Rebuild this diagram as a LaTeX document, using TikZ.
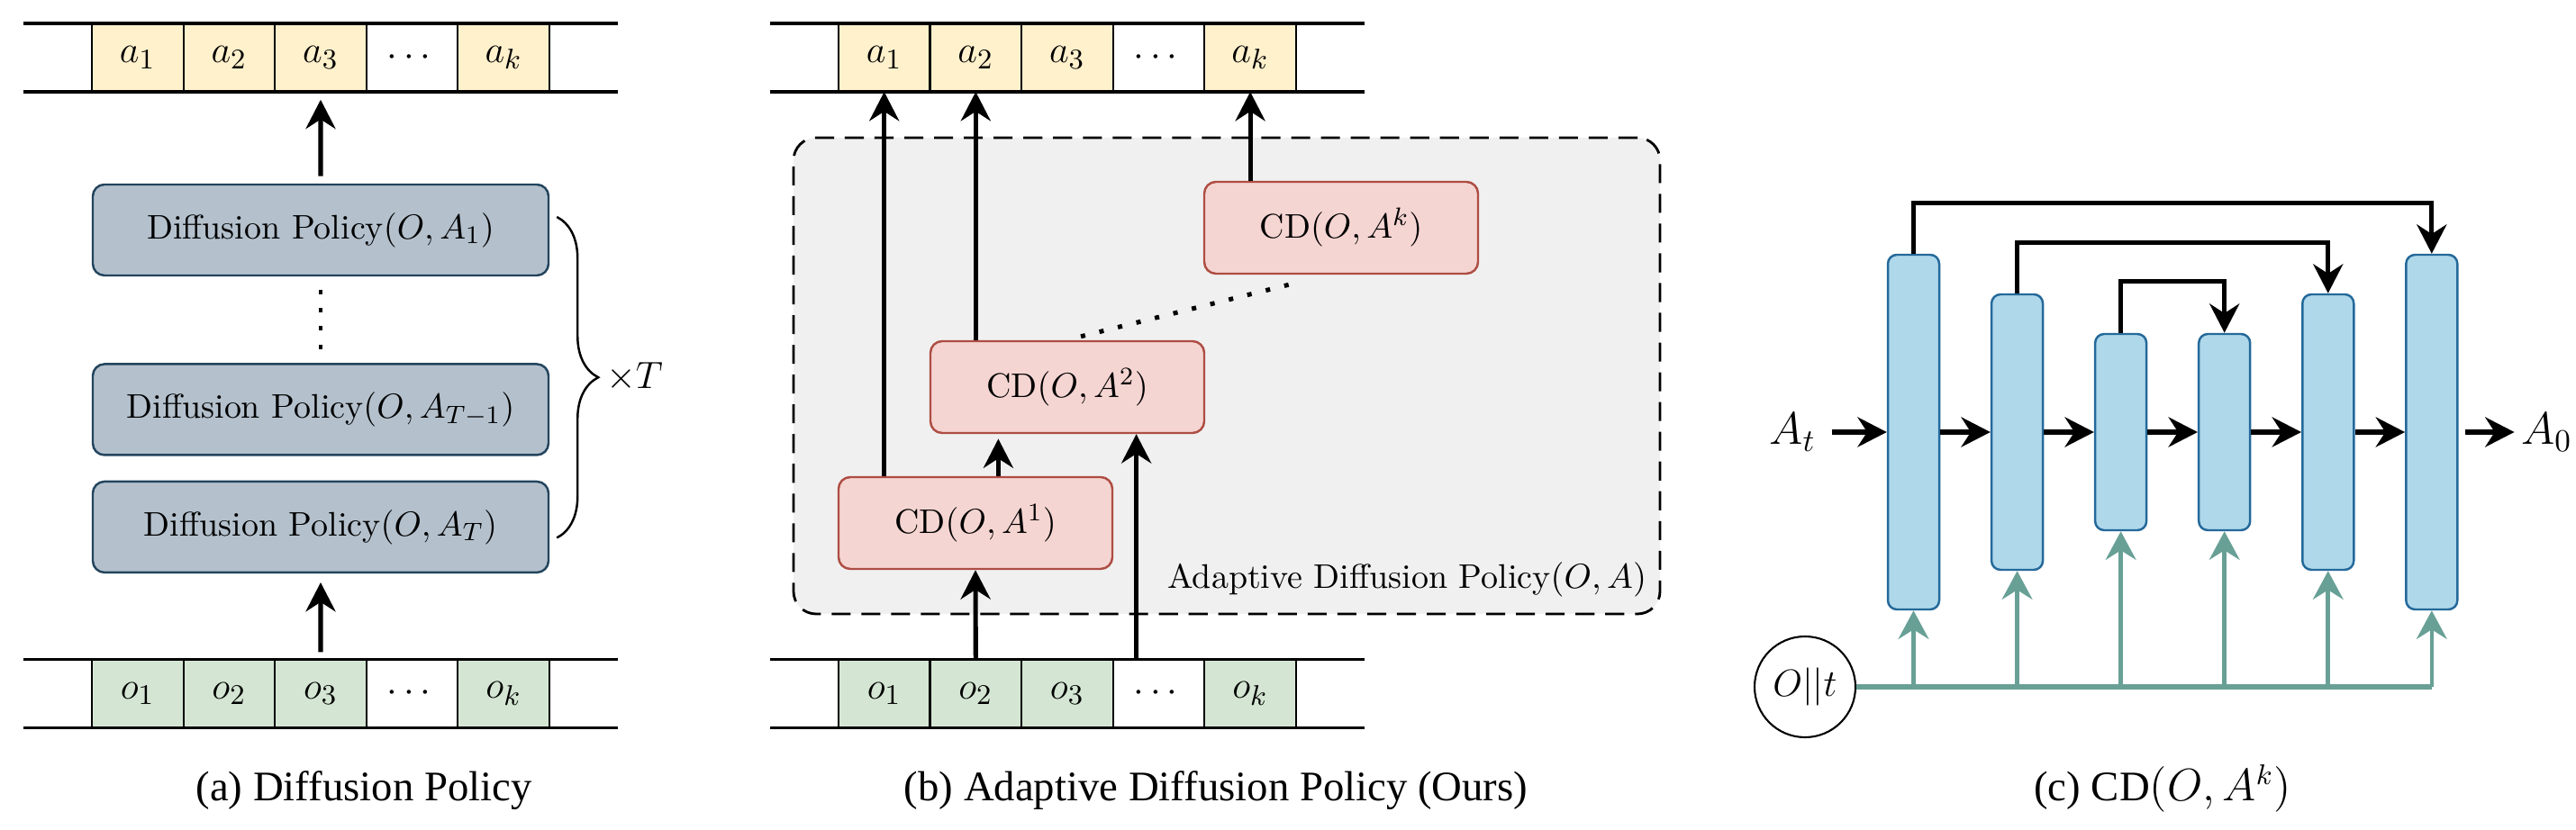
\documentclass[tikz,border=0pt]{standalone}
\usepackage{amsmath, amssymb}
\usepackage{fontspec}
\newfontfamily\capfont{Liberation Serif}
\usetikzlibrary{arrows.meta, positioning, calc, decorations.pathreplacing}
\definecolor{actfill}{HTML}{FFF1CC}
\definecolor{obsfill}{HTML}{D4E6D3}
\definecolor{dpfill}{HTML}{B4C1CD}
\definecolor{dpline}{HTML}{23445D}
\definecolor{cdfill}{HTML}{F5D5D2}
\definecolor{cdline}{HTML}{AE4D43}
\definecolor{adpfill}{HTML}{F0F0F0}
\definecolor{colfill}{HTML}{AFD8EB}
\definecolor{colline}{HTML}{24699A}
\definecolor{condcol}{HTML}{68A096}

\begin{document}
\begin{tikzpicture}[
      cell/.style={rectangle, draw, line width=0.6pt, minimum width=1.016cm,
                   minimum height=0.76cm, inner sep=0pt, outer sep=0pt,
                   font=\fontsize{13}{15}\selectfont},
      act/.style={cell, fill=actfill},
      obs/.style={cell, fill=obsfill},
      rail/.style={line width=0.9pt},
      dp/.style={rectangle, rounded corners=0.13cm, draw=dpline, fill=dpfill,
                 line width=0.7pt, minimum width=5.06cm, minimum height=1.01cm,
                 font=\fontsize{10.8}{13}\selectfont},
      cd/.style={rectangle, rounded corners=0.13cm, draw=cdline, fill=cdfill,
                 line width=0.7pt, minimum width=3.04cm, minimum height=1.02cm,
                 font=\fontsize{10.8}{13}\selectfont},
      adp/.style={rectangle, rounded corners=0.25cm, draw, dash pattern=on 6pt off 3.4pt,
                  fill=adpfill, line width=0.8pt, minimum width=9.62cm, minimum height=5.29cm},
      col/.style={rectangle, rounded corners=0.1cm, draw=colline, fill=colfill,
                  line width=0.7pt, minimum width=0.57cm, inner sep=0pt},
      arrow/.style={-{Stealth[length=9.2pt, width=9.4pt, inset=3pt]}, line width=1.45pt},
      cond/.style={-{Stealth[length=9pt, width=9.6pt, inset=3pt]}, draw=condcol, line width=1.3pt},
      bus/.style={draw=condcol, line width=1.45pt},
      lbl/.style={inner sep=2pt, font=\fontsize{14.5}{17}\selectfont},
      subcap/.style={font=\capfont\fontsize{13.3}{16}\selectfont}
    ]
        \useasboundingbox (0,0) rectangle (28.6,-9.22);

        \node[act] (a1) at (1.528,-0.64) {$a_1$};
        \node[act, right=0pt of a1] (a2) {$a_2$};
        \node[act, right=0pt of a2] (a3) {$a_3$};
        \node[cell, right=0pt of a3] (adots) {$\cdots$};
        \node[act, right=0pt of adots] (ak) {$a_k$};
        \draw[rail] ($(a1.north west)+(-0.76,0)$) -- ($(ak.north east)+(0.76,0)$);
        \draw[rail] ($(a1.south west)+(-0.76,0)$) -- ($(ak.south east)+(0.76,0)$);

        \node[dp] (dp1) at (3.56,-2.555) {Diffusion Policy$(O, A_1)$};
        \node[dp, below=0.96cm of dp1] (dp2) {Diffusion Policy$(O, A_{T-1})$};
        \node[dp, below=0.27cm of dp2] (dp3) {Diffusion Policy$(O, A_T)$};

        \node[obs] (o1) at (1.528,-7.705) {$o_1$};
        \node[obs, right=0pt of o1] (o2) {$o_2$};
        \node[obs, right=0pt of o2] (o3) {$o_3$};
        \node[cell, right=0pt of o3] (odots) {$\cdots$};
        \node[obs, right=0pt of odots] (ok) {$o_k$};
        \draw[rail] ($(o1.north west)+(-0.76,0)$) -- ($(ok.north east)+(0.76,0)$);
        \draw[rail] ($(o1.south west)+(-0.76,0)$) -- ($(ok.south east)+(0.76,0)$);

        \draw[arrow, shorten <=2.3pt, shorten >=2.5pt] (dp1) -- (a3);
        \draw[arrow, shorten <=2.3pt, shorten >=2.8pt] (o3) -- (dp3);
        \draw[line width=1.42pt, dash pattern=on 1.42pt off 4.36pt, shorten <=4.1pt, shorten >=4.4pt] (dp1) -- (dp2);
        \draw[line width=0.7pt, decorate, decoration={brace, amplitude=0.46cm}]
            ($(dp1.east)+(0.08,0.145)$) -- ($(dp3.east)+(0.08,-0.12)$)
            node[midway, right=0.42cm, font=\fontsize{11.5}{14}\selectfont] (times) {$\times T$};

        \node[adp] (adp) at (13.62,-4.175) {};
        \node[anchor=east, font=\fontsize{10.8}{13}\selectfont] (adplbl)
            at ($(adp.south east)+(-0.04,0.40)$) {Adaptive Diffusion Policy$(O, A)$};

        \node[act] (ba1) at (9.817,-0.64) {$a_1$};
        \node[act, right=0pt of ba1] (ba2) {$a_2$};
        \node[act, right=0pt of ba2] (ba3) {$a_3$};
        \node[cell, right=0pt of ba3] (badots) {$\cdots$};
        \node[act, right=0pt of badots] (bak) {$a_k$};
        \draw[rail] ($(ba1.north west)+(-0.76,0)$) -- ($(bak.north east)+(0.76,0)$);
        \draw[rail] ($(ba1.south west)+(-0.76,0)$) -- ($(bak.south east)+(0.76,0)$);

        \node[obs] (bo1) at (9.817,-7.705) {$o_1$};
        \node[obs, right=0pt of bo1] (bo2) {$o_2$};
        \node[obs, right=0pt of bo2] (bo3) {$o_3$};
        \node[cell, right=0pt of bo3] (bodots) {$\cdots$};
        \node[obs, right=0pt of bodots] (bok) {$o_k$};
        \draw[rail] ($(bo1.north west)+(-0.76,0)$) -- ($(bok.north east)+(0.76,0)$);
        \draw[rail] ($(bo1.south west)+(-0.76,0)$) -- ($(bok.south east)+(0.76,0)$);

        \node[cd] (cd1) at (10.83,-5.81) {CD$(O, A^1)$};
        \node[cd] (cd2) at (11.85,-4.30) {CD$(O, A^2)$};
        \node[cd] (cdk) at (14.89,-2.53) {CD$(O, A^k)$};
        \coordinate (in12) at ($(cd2.south west)!0.25!(cd2.south east)$);
        \coordinate (in2) at ($(cd2.south west)!0.75!(cd2.south east)$);

        \draw[arrow] (cd1.north -| ba1) -- (ba1.south);
        \draw[arrow] (cd2.north -| ba2) -- (ba2.south);
        \draw[arrow] (cdk.north -| bak) -- (bak.south);
        \draw[arrow, shorten >=1.5pt] (cd1.north -| in12) -- (in12);
        \draw[arrow] (bo2.north) -- (cd1.south);
        \draw[arrow] (bo2.north -| in2) -- (in2);
        \draw[line width=1.42pt, dash pattern=on 1.42pt off 4.6pt]
            ($(cd2.north)+(0.15,0.04)$) -- ($(cdk.south)+(-0.46,-0.08)$);

        \node[col, minimum height=3.94cm] (c1) at (21.245,-4.80) {};
        \node[col, minimum height=3.06cm, right=0.556cm of c1] (c2) {};
        \node[col, minimum height=2.18cm, right=0.556cm of c2] (c3) {};
        \node[col, minimum height=2.18cm, right=0.556cm of c3] (c4) {};
        \node[col, minimum height=3.06cm, right=0.556cm of c4] (c5) {};
        \node[col, minimum height=3.94cm, right=0.556cm of c5] (c6) {};
        \node[lbl, left=0.71cm of c1] (At) {$A_t$};
        \node[lbl, right=0.62cm of c6] (A0) {$A_0$};
        \draw[arrow, shorten <=2.8pt] (At) -- (c1);
        \draw[arrow] (c1) -- (c2);
        \draw[arrow] (c2) -- (c3);
        \draw[arrow] (c3) -- (c4);
        \draw[arrow] (c4) -- (c5);
        \draw[arrow] (c5) -- (c6);
        \draw[arrow, shorten <=2pt] (c6) -- (A0);
        \draw[arrow] (c1.north) -- ++(0,0.56) -| (c6.north);
        \draw[arrow] (c2.north) -- ++(0,0.56) -| (c5.north);
        \draw[arrow] (c3.north) -- ++(0,0.57) -| (c4.north);

        \node[circle, draw, line width=0.6pt, minimum size=1.12cm, inner sep=0pt,
              font=\fontsize{12.5}{15}\selectfont] (ot) at (20.04,-7.63) {$O||t$};
        \coordinate (t1) at (c1 |- ot);
        \coordinate (t2) at (c2 |- ot);
        \coordinate (t3) at (c3 |- ot);
        \coordinate (t4) at (c4 |- ot);
        \coordinate (t5) at (c5 |- ot);
        \coordinate (t6) at (c6 |- ot);
        \draw[bus] (ot) -- (t6);
        \draw[cond] (t1) -- (c1);
        \draw[cond] (t2) -- (c2);
        \draw[cond] (t3) -- (c3);
        \draw[cond] (t4) -- (c4);
        \draw[cond] (t5) -- (c5);
        \draw[cond] (t6) -- (c6);

        \node[subcap, anchor=base] (capa) at (4.04,-8.90) {(a) Diffusion Policy};
        \node[subcap, anchor=base] (capb) at (13.50,-8.90) {(b) Adaptive Diffusion Policy (Ours)};
        \node[subcap, anchor=base] (capc) at (24.01,-8.90) {(c) CD$(O, A^k)$};
    \end{tikzpicture}
\end{document}
